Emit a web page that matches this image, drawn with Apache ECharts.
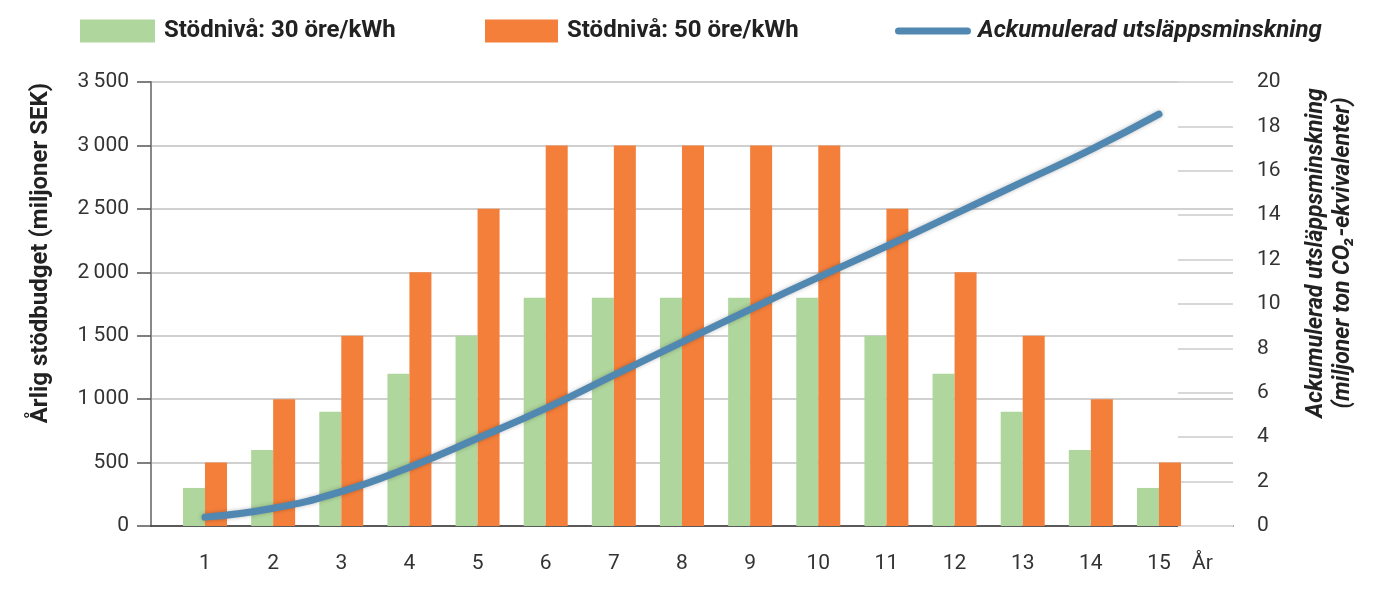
<!DOCTYPE html>
<html>
<head>
<meta charset="utf-8">
<script src="https://cdn.jsdelivr.net/npm/echarts@6/dist/echarts.min.js"></script>
<style>
  html, body { margin: 0; padding: 0; background: #fff; }
  #chart { width: 1392px; height: 591px; }
</style>
</head>
<body>
<div id="chart"></div>
<script>
// år 1-15
var years = [1, 2, 3, 4, 5, 6, 7, 8, 9, 10, 11, 12, 13, 14, 15];
// årlig stödbudget, miljoner SEK
var stod30 = [300, 600, 900, 1200, 1500, 1800, 1800, 1800, 1800, 1800, 1500, 1200, 900, 600, 300];
var stod50 = [500, 1000, 1500, 2000, 2500, 3000, 3000, 3000, 3000, 3000, 2500, 2000, 1500, 1000, 500];
// ackumulerad utsläppsminskning, miljoner ton CO2-ekv
var ackumulerad = [0.4, 0.8, 1.55, 2.65, 3.95, 5.3, 6.8, 8.28, 9.76, 11.2, 12.6, 14.05, 15.5, 16.95, 18.55];

var names = ['Stödnivå: 30 öre/kWh', 'Stödnivå: 50 öre/kWh', 'Ackumulerad utsläppsminskning'];
var font = 'Roboto, "Noto Sans", sans-serif';

var myChart = echarts.init(document.getElementById('chart'));

function pairs(arr) {
    return arr.map(function (v, i) { return [years[i], v]; });
}

var legendText = { fontFamily: font, fontSize: 24, fontWeight: 'bold', color: '#222', padding: [0, 0, 0, 4] };

var option = {
    animation: false,
    legend: [
        {
            left: 75, top: 14,
            itemWidth: 75, itemHeight: 23,
            icon: 'rect',
            data: [names[0]],
            textStyle: legendText
        },
        {
            left: 480, top: 14,
            itemWidth: 73, itemHeight: 23,
            icon: 'rect',
            data: [names[1]],
            textStyle: legendText
        },
        {
            left: 890, top: 14,
            itemWidth: 76, itemHeight: 23,
            data: [{ name: names[2], icon: 'path://M3,0 L70,0 A3,3 0 0 1 70,7 L3,7 A3,3 0 0 1 3,0 Z' }],
            itemStyle: { color: '#5188b2' },
            textStyle: Object.assign({}, legendText, { fontStyle: 'italic', padding: [0, 0, 0, 2] })
        }
    ],
    grid: {
        left: 151,
        right: 159,
        top: 82,
        bottom: 65
    },
    xAxis: {
        type: 'value',
        min: 0.2076,
        max: 16.086,
        name: 'År',
        nameLocation: 'end',
        nameGap: -41,
        nameTextStyle: {
            fontFamily: font, fontSize: 21, color: '#333',
            verticalAlign: 'top', align: 'left', padding: [27, 0, 0, 0]
        },
        axisLine: { lineStyle: { color: '#333', width: 1.5 } },
        axisTick: { show: false },
        splitLine: { show: false },
        axisLabel: {
            customValues: years,
            margin: 27,
            fontFamily: font, fontSize: 21, color: '#333'
        }
    },
    yAxis: [
        {
            type: 'value',
            min: 0,
            max: 3500,
            interval: 500,
            name: 'Årlig stödbudget (miljoner SEK)',
            nameLocation: 'middle',
            nameGap: 98,
            nameTextStyle: {
                fontFamily: font, fontSize: 24, fontWeight: 'bold', color: '#222',
                padding: [0, 0, 0, 102]
            },
            axisLine: { show: true, lineStyle: { color: '#888', width: 2 } },
            axisTick: { show: true, length: 14, lineStyle: { color: '#555', width: 1.5 } },
            axisLabel: {
                margin: 22,
                fontFamily: font, fontSize: 21, color: '#333',
                formatter: function (v) {
                    return v >= 1000 ? Math.floor(v / 1000) + '\u2009' + String(v % 1000).padStart(3, '0') : String(v);
                }
            },
            splitLine: { lineStyle: { color: '#d0d0d0', width: 2 } }
        },
        {
            type: 'value',
            min: 0,
            max: 20,
            interval: 2,
            position: 'right',
            name: 'Ackumulerad utsläppsminskning\n(miljoner ton CO\u2082-ekvivalenter)',
            nameLocation: 'middle',
            nameGap: 70,
            nameTextStyle: {
                fontFamily: font, fontSize: 23, fontWeight: 'bold', fontStyle: 'italic', color: '#222',
                lineHeight: 27, padding: [0, 0, 0, 102]
            },
            axisLine: { show: false },
            axisTick: { show: true, inside: true, length: 55, lineStyle: { color: '#d8d8d8', width: 2 } },
            axisLabel: {
                margin: 24,
                fontFamily: font, fontSize: 21, color: '#333'
            },
            splitLine: { show: false }
        }
    ],
    series: [
        {
            name: names[0],
            type: 'bar',
            yAxisIndex: 0,
            data: pairs(stod30),
            barWidth: 22,
            barGap: '0%',
            itemStyle: { color: '#afd69d' }
        },
        {
            name: names[1],
            type: 'bar',
            yAxisIndex: 0,
            data: pairs(stod50),
            barWidth: 22,
            barGap: '0%',
            itemStyle: { color: '#f47f3b' }
        },
        {
            name: names[2],
            type: 'line',
            yAxisIndex: 1,
            data: pairs(ackumulerad),
            smooth: true,
            showSymbol: false,
            symbol: 'none',
            lineStyle: {
                width: 7,
                color: '#5188b2',
                cap: 'round',
                shadowColor: 'rgba(0, 0, 0, 0.25)',
                shadowBlur: 4
            },
            itemStyle: { color: '#5188b2' },
            z: 5
        }
    ]
};

myChart.setOption(option);
window.addEventListener('resize', function () {
    myChart.resize();
});
</script>
</body>
</html>
